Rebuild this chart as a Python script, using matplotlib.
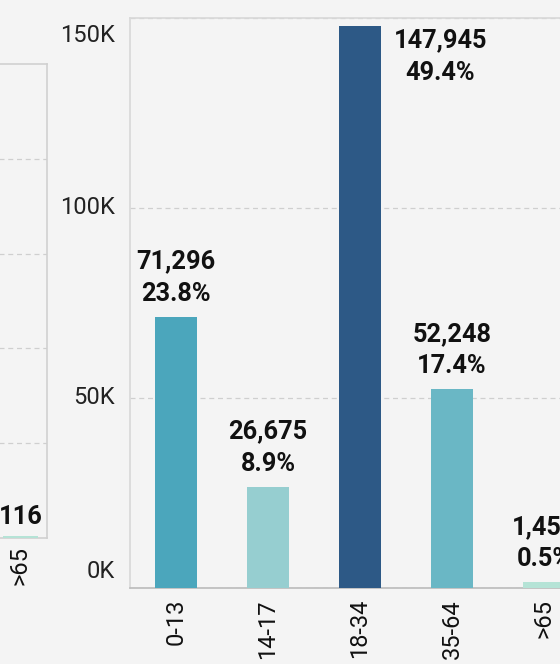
import matplotlib
matplotlib.use("Agg")
import matplotlib.pyplot as plt
import matplotlib.transforms as mtransforms

plt.rcParams['font.family'] = ['Roboto', 'DejaVu Sans']

# Data
categories = ["0-13", "14-17", "18-34", "35-64", ">65"]
values = [71296, 26675, 147945, 52248, 1456]
colors = ["#4BA6BC", "#96CED0", "#2D5986", "#6AB7C5", "#B5E3D6"]
yticks = [0, 50000, 100000, 150000]
ylabels = ["0K", "50K", "100K", "150K"]

left_categories = [">65"]
left_values = [116]
left_colors = ["#B5E3D6"]

BG = "#F4F4F4"
W, H = 560, 664
fig = plt.figure(figsize=(W / 100, H / 100), dpi=100, facecolor=BG)

def px(x0, y_top, w, h):
    return [x0 / W, (H - y_top - h) / H, w / W, h / H]

FS = 17
LFS = 18.3
GRID = "#CFCFCF"

# ---------- left (partially visible) panel ----------
axl = fig.add_axes(px(-218, 64, 265, 474), facecolor=BG)
axl.set_xlim(-4.5, 0.5)
axl.set_ylim(0, 25000)
axl.bar(range(len(left_values)), left_values, width=0.66, color=left_colors, zorder=3)
axl.set_yticks([5000, 10000, 15000, 20000])
axl.yaxis.grid(True, color=GRID, linestyle=(0, (4, 3)), linewidth=0.9)
axl.tick_params(axis='y', length=0, labelleft=False)
axl.set_xticks(range(len(left_categories)))
axl.set_xticklabels(left_categories, rotation=90, fontsize=FS, color="#111")
axl.tick_params(axis='x', length=0, pad=6)
for s in axl.spines.values():
    s.set_color("#D0D0D0")
    s.set_linewidth(1.2)
for i, v in enumerate(left_values):
    axl.annotate(f"{v:,}", (i, v), xytext=(0, 5), textcoords='offset points',
                 ha='center', va='bottom', fontsize=LFS, fontweight='bold', color="#111")

# ---------- main panel ----------
ax = fig.add_axes(px(130, 18, 460, 570), facecolor=BG)
ax.set_xlim(-0.5, len(categories) - 0.5)
ax.set_ylim(0, 150000)
x = range(len(categories))
ax.bar(x, values, width=0.457, color=colors, zorder=3)
ax.set_yticks(yticks)
ax.yaxis.grid(True, color=GRID, linestyle=(0, (4, 3)), linewidth=0.9)
ax.tick_params(axis='y', length=0, labelleft=False)
ax.set_xticks(list(x))
ax.set_xticklabels(categories, rotation=90, fontsize=FS, color="#111")
ax.tick_params(axis='x', length=0, pad=8)
ax.spines['left'].set_color("#D8D8D8")
ax.spines['top'].set_color("#D8D8D8")
ax.spines['right'].set_color("#D8D8D8")
ax.spines['bottom'].set_color("#BBBBBB")
for s in ax.spines.values():
    s.set_linewidth(1.2)

# y tick labels (first/last nudged inward)
ytrans = mtransforms.blended_transform_factory(ax.transAxes, ax.transData)
n = len(yticks)
for i, (yv, lab) in enumerate(zip(yticks, ylabels)):
    dy = 0
    if i == 0:
        dy = 16
    elif i == n - 1:
        dy = -17
    t = mtransforms.offset_copy(ytrans, fig=fig, x=-15, y=dy, units='dots')
    ax.text(0, yv, lab, transform=t, ha='right', va='center', fontsize=FS, color="#222")

total = sum(values)
ymax = ax.get_ylim()[1]
for i, v in enumerate(values):
    txt = f"{v:,}\n{v / total * 100:.1f}%"
    if v > 0.9 * ymax:
        ax.annotate(txt, (i + 0.457 / 2, v), xytext=(9, -2), textcoords='offset points',
                    ha='left', va='top', multialignment='center', linespacing=1.45,
                    fontsize=LFS, fontweight='bold', color="#111")
    else:
        ax.annotate(txt, (i, v), xytext=(0, 8), textcoords='offset points',
                    ha='center', va='bottom', multialignment='center', linespacing=1.45,
                    fontsize=LFS, fontweight='bold', color="#111")

fig.savefig("out.png", dpi=100, facecolor=BG)
